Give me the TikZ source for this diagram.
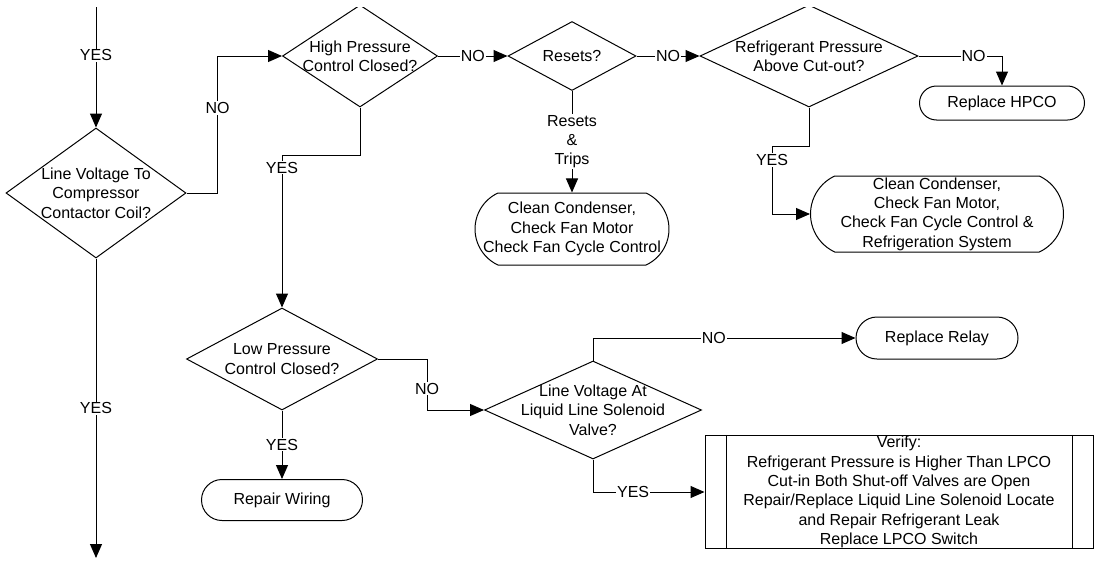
\documentclass[tikz,border=0pt]{standalone}
\usepackage{fontspec}
\setmainfont{Liberation Sans}
\usetikzlibrary{shapes.geometric, shapes.misc, positioning, arrows.meta}

\tikzset{
        dec/.style={diamond, draw, inner sep=0pt},
        term/.style={rounded rectangle, draw, inner sep=1pt, align=center},
        proc/.style={rectangle, draw, inner sep=1pt, align=center},
        lbl/.style={fill=white, inner sep=1pt},
}

\begin{document}
\begin{tikzpicture}[x=1pt, y=1pt, line width=1pt, on grid,
        >={Triangle[length=14pt, width=12pt]}, font=\fontsize{16}{19.3}\selectfont]
        \useasboundingbox (0,0) rectangle (1095,-560);
        \clip (0,-7) rectangle (1095,-560);

        % decisions
        \node[dec, minimum width=180pt, minimum height=130pt,
              label={[align=center]center:Line Voltage To\\Compressor\\Contactor Coil?}] (d1) at (96,-193) {};
        \node[dec, minimum width=155pt, minimum height=102pt,
              label={[align=center]center:High Pressure\\Control Closed?}] (hp) [above right=137pt and 264pt of d1] {};
        \node[dec, minimum width=128pt, minimum height=69pt,
              label={center:Resets?}] (rs) [right=212pt of hp] {};
        \node[dec, minimum width=218pt, minimum height=102pt,
              label={[align=center]center:Refrigerant Pressure\\Above Cut-out?}] (rp) [right=237pt of rs] {};
        \node[dec, minimum width=191pt, minimum height=102pt,
              label={[align=center]center:Low Pressure\\Control Closed?}] (lp) [below left=303pt and 78pt of hp] {};
        \node[dec, minimum width=217pt, minimum height=98pt,
              label={[align=center]center:Line Voltage At\\Liquid Line Solenoid\\Valve?}] (ll) [below right=51pt and 311pt of lp] {};

        % actions
        \node[term, minimum width=167pt, minimum height=34pt] (hpco) [below right=47pt and 193pt of rp] {Replace HPCO};
        \node[term, rounded rectangle arc length=130, minimum width=196pt, minimum height=72pt,
              label={[align=center]center:Clean Condenser,\\Check Fan Motor\\Check Fan Cycle Control}] (cl1) [below=173pt of rs] {};
        \node[term, rounded rectangle arc length=130, minimum width=255pt, minimum height=76pt] (cl2) [below right=158pt and 128pt of rp]
              {Clean Condenser,\\Check Fan Motor,\\Check Fan Cycle Control \&\\Refrigeration System};
        \node[term, minimum width=163pt, minimum height=41pt] (rw) [below=141pt of lp] {Repair Wiring};
        \node[term, minimum width=164pt, minimum height=42pt] (relay) [above right=72pt and 344pt of ll] {Replace Relay};
        \node[proc, minimum width=388pt, minimum height=113pt] (vf) [below right=82pt and 306pt of ll]
              {Verify:\\Refrigerant Pressure is Higher Than LPCO\\Cut-in Both Shut-off Valves are Open\\Repair/Replace Liquid Line Solenoid Locate\\and Repair Refrigerant Leak\\Replace LPCO Switch};
        \draw ([xshift=22pt]vf.north west) -- ([xshift=22pt]vf.south west);
        \draw ([xshift=-21pt]vf.north east) -- ([xshift=-21pt]vf.south east);

        \coordinate[above=186pt of d1] (top);
        \coordinate[below=365pt of d1] (bot);

        \path[->]
        (top) edge node[lbl, pos=0.4] {YES} (d1)
        (d1) edge node[lbl] {YES} (bot)
        (hp) edge node[lbl] {NO} (rs)
        (rs) edge node[lbl] {NO} (rp)
        (rs) edge node[lbl, align=center] {Resets\\\&\\Trips} (cl1)
        (lp) edge node[lbl] {YES} (rw);

        \draw[->] (d1.east) -- ++(31,0) |- node[lbl, pos=0.31] {NO} (hp.west);
        \draw[->] (rp.east) -| node[lbl, pos=0.33] {NO} (hpco.north);
        \draw[->] (rp.south) -- ++(0,-39) -- ++(-37,0) |- node[lbl, pos=0.1] {YES} (cl2.west);
        \draw[->] (hp.south) -- ++(0,-48) -| node[lbl, pos=0.54] {YES} (lp.north);
        \draw[->] (lp.east) -- ++(49,0) |- node[lbl, pos=0.29] {NO} (ll.west);
        \draw[->] (ll.north) |- node[lbl, pos=0.73] {NO} (relay.west);
        \draw[->] (ll.south) |- node[lbl, pos=0.68] {YES} (vf.west);
\end{tikzpicture}
\end{document}
